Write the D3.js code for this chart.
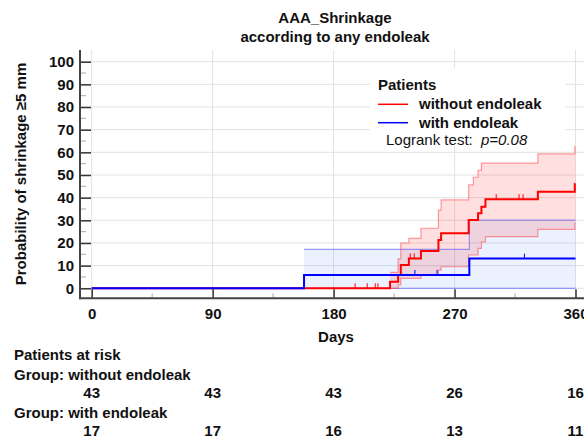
<!DOCTYPE html>
<html><head><meta charset="utf-8">
<script src="https://cdn.jsdelivr.net/npm/d3@7"></script>
<style>
body{margin:0;background:#fff}
svg{display:block}
text{font-family:"Liberation Sans",Arial,sans-serif;fill:#111}
</style>
</head><body>
<svg id="c" width="584" height="443"></svg>
<script>
// ---- data ----
const titleLines = ["AAA_Shrinkage", "according to any endoleak"];
const yLabel = "Probability of shrinkage \u22655 mm";
const xLabel = "Days";
const xTickVals = [0, 90, 180, 270, 360];
const xMinorVals = [45, 135, 225, 315];
const yTickVals = [0, 10, 20, 30, 40, 50, 60, 70, 80, 90, 100];
const yMinorVals = [5, 15, 25, 35, 45, 55, 65, 75, 85, 95];
const groups = ["without endoleak", "with endoleak"];
const riskWithout = [43, 43, 43, 26, 16];
const riskWith = [17, 17, 16, 13, 11];

// without endoleak (red): Kaplan-Meier estimate (%)
const redTimes = [0, 222, 228, 230, 236, 245, 258, 260, 280.5, 287.5, 290, 293, 332, 359.5, 360];
const redEst   = [0, 2.9, 5.9, 10.3, 13.2, 16.5, 21.3, 24.3, 30.1, 33.1, 36, 39.3, 42.6, 46, 46];
// confidence band
const redCITimes = [0, 222, 228, 230, 236, 245, 258, 260, 280.5, 284, 287.5, 290, 293, 332, 359.5, 360];
const redUpper   = [0, 7, 13, 20, 22, 26.5, 34.5, 39, 45.6, 49, 52, 55.2, 55.2, 59.3, 62.5, 62.5];
const redLower   = [0, 0, 1.5, 4.4, 4.4, 6, 8, 9.5, 14.7, 14.7, 17.6, 20.5, 22.8, 26, 28.7, 28.7];
const redCensor  = [196, 205, 211, 213, 237, 240, 301, 318, 321];

// with endoleak (blue)
const blueTimes = [0, 158, 281, 360];
const blueEst   = [0, 5.9, 13.1, 13.1];
const blueCITimes = [0, 158, 281, 360];
const blueUpper = [0, 17.2, 30.1, 30.1];
const blueLower = [0, 0, 0, 0];
const blueCensor = [240.5, 257, 322];

// ---- drawing ----
const svg = d3.select("#c");
svg.append("rect").attr("width", 584).attr("height", 443).attr("fill", "#fff");

const x = d3.scaleLinear().domain([0, 360]).range([91.7, 575.5]);
const y = d3.scaleLinear().domain([0, 100]).range([288.3, 61.7]);
const axX = 80, axY = 298.3, topY = 50, rightX = 600;

// title
svg.selectAll("text.title").data(titleLines).join("text")
  .attr("x", 335).attr("y", (d, i) => 23 + i * 19)
  .attr("text-anchor", "middle").attr("font-size", 15).attr("font-weight", "bold")
  .text(d => d);

// gridlines
const grid = svg.append("g").attr("stroke", "#e2e2e2").attr("stroke-width", 1);
grid.selectAll("line.h").data(yTickVals).join("line")
  .attr("x1", axX).attr("x2", rightX).attr("y1", d => y(d)).attr("y2", d => y(d));
grid.selectAll("line.v").data(xTickVals).join("line")
  .attr("x1", d => x(d)).attr("x2", d => x(d)).attr("y1", topY).attr("y2", axY);

// legend background
svg.append("rect").attr("x", 370).attr("y", 68).attr("width", 195).attr("height", 78).attr("fill", "#fff");

// series helpers
const stepLine = (times, vals) => d3.line().curve(d3.curveStepAfter)
  .x((d, i) => x(times[i])).y(d => y(d))(vals);
const stepArea = (times, lo, hi) => d3.area().curve(d3.curveStepAfter)
  .x((d, i) => x(times[i])).y0((d, i) => y(lo[i])).y1((d, i) => y(hi[i]))(hi);
const valueAt = (times, vals, t) => { let v = vals[0]; for (let i = 0; i < times.length; i++) if (times[i] <= t) v = vals[i]; return v; };

// bands
svg.append("path").attr("d", stepArea(blueCITimes, blueLower, blueUpper)).attr("fill", "rgba(60,120,255,0.1)");
svg.append("path").attr("d", stepArea(redCITimes, redLower, redUpper)).attr("fill", "rgba(255,40,40,0.15)");

// band lines
const bandLine = (times, vals, start, color) => {
  const idx = times.map((t, i) => i).filter(i => times[i] >= start);
  svg.append("path").attr("d", stepLine(idx.map(i => times[i]), idx.map(i => vals[i])))
    .attr("fill", "none").attr("stroke", color).attr("stroke-width", 1.2);
};
bandLine(blueCITimes, blueUpper, 158, "rgba(80,80,255,0.55)");
bandLine(blueCITimes, blueLower, 158, "rgba(80,80,255,0.55)");
bandLine(redCITimes, redUpper, 222, "rgba(255,60,60,0.5)");
bandLine(redCITimes, redLower, 222, "rgba(255,60,60,0.5)");

// estimates
svg.append("path").attr("d", stepLine(redTimes, redEst)).attr("fill", "none").attr("stroke", "#ff0000").attr("stroke-width", 2);
svg.append("path").attr("d", stepLine(blueTimes, blueEst)).attr("fill", "none").attr("stroke", "#0000ff").attr("stroke-width", 2);

// censor marks
svg.selectAll("line.cr").data(redCensor).join("line")
  .attr("x1", d => x(d)).attr("x2", d => x(d))
  .attr("y1", d => y(valueAt(redTimes, redEst, d))).attr("y2", d => y(valueAt(redTimes, redEst, d)) - 5)
  .attr("stroke", "#ff0000").attr("stroke-width", 1);
svg.selectAll("line.cb").data(blueCensor).join("line")
  .attr("x1", d => x(d)).attr("x2", d => x(d))
  .attr("y1", d => y(valueAt(blueTimes, blueEst, d))).attr("y2", d => y(valueAt(blueTimes, blueEst, d)) - 5)
  .attr("stroke", "#0000ff").attr("stroke-width", 1);

// axes
const yAxis = d3.axisLeft(y).tickValues(yTickVals).tickSizeInner(-11).tickSizeOuter(0).tickPadding(6);
const gy = svg.append("g").attr("transform", `translate(${axX},0)`).call(yAxis);
gy.select(".domain").remove();
gy.selectAll(".tick line").attr("stroke", "#333").attr("stroke-width", 1.5);
gy.selectAll(".tick text").attr("font-size", 15).attr("font-weight", "bold").attr("fill", "#111")
  .attr("font-family", '"Liberation Sans",Arial,sans-serif');
svg.append("g").selectAll("line").data(yMinorVals).join("line")
  .attr("x1", axX).attr("x2", axX + 6).attr("y1", d => y(d)).attr("y2", d => y(d))
  .attr("stroke", "#aaa").attr("stroke-width", 1);

const xAxis = d3.axisBottom(x).tickValues(xTickVals).tickSizeInner(-9).tickSizeOuter(0).tickPadding(10);
const gx = svg.append("g").attr("transform", `translate(0,${axY})`).call(xAxis);
gx.select(".domain").remove();
gx.selectAll(".tick line").attr("stroke", "#333").attr("stroke-width", 1.5);
gx.selectAll(".tick text").attr("font-size", 15).attr("font-weight", "bold").attr("fill", "#111")
  .attr("font-family", '"Liberation Sans",Arial,sans-serif');
svg.append("g").selectAll("line").data(xMinorVals).join("line")
  .attr("x1", d => x(d)).attr("x2", d => x(d)).attr("y1", axY).attr("y2", axY - 5)
  .attr("stroke", "#aaa").attr("stroke-width", 1);

svg.append("line").attr("x1", axX).attr("x2", axX).attr("y1", topY).attr("y2", axY + 1)
  .attr("stroke", "#444").attr("stroke-width", 2);
svg.append("line").attr("x1", axX - 1).attr("x2", rightX).attr("y1", axY).attr("y2", axY)
  .attr("stroke", "#444").attr("stroke-width", 2);

// axis titles
svg.append("text").attr("transform", `translate(26,174) rotate(-90)`)
  .attr("text-anchor", "middle").attr("font-size", 15).attr("font-weight", "bold").text(yLabel);
svg.append("text").attr("x", 336).attr("y", 342).attr("text-anchor", "middle")
  .attr("font-size", 15).attr("font-weight", "bold").text(xLabel);

// legend
const lg = svg.append("g");
lg.append("text").attr("x", 378).attr("y", 90).attr("font-size", 15).attr("font-weight", "bold").text("Patients");
[["#ff0000", 104.3], ["#0000ff", 122.7]].forEach((c, i) => {
  lg.append("line").attr("x1", 378).attr("x2", 408).attr("y1", c[1]).attr("y2", c[1]).attr("stroke", c[0]).attr("stroke-width", 1.5);
  lg.append("text").attr("x", 419).attr("y", c[1] + 5).attr("font-size", 15).attr("font-weight", "bold").text(groups[i]);
});
const lt = lg.append("text").attr("x", 386).attr("y", 145).attr("font-size", 15);
lt.append("tspan").text("Logrank test:");
lt.append("tspan").attr("x", 481).attr("font-style", "italic").text("p=0.08");

// risk table
const rt = svg.append("g").attr("font-size", 15).attr("font-weight", "bold");
rt.append("text").attr("x", 14).attr("y", 360).text("Patients at risk");
rt.append("text").attr("x", 14).attr("y", 380).text("Group: " + groups[0]);
rt.selectAll("text.r1").data(riskWithout).join("text").attr("class", "r1")
  .attr("x", (d, i) => x(xTickVals[i])).attr("y", 398).attr("text-anchor", "middle").text(d => d);
rt.append("text").attr("x", 14).attr("y", 418).text("Group: " + groups[1]);
rt.selectAll("text.r2").data(riskWith).join("text").attr("class", "r2")
  .attr("x", (d, i) => x(xTickVals[i])).attr("y", 436).attr("text-anchor", "middle").text(d => d);
</script>
</body></html>
